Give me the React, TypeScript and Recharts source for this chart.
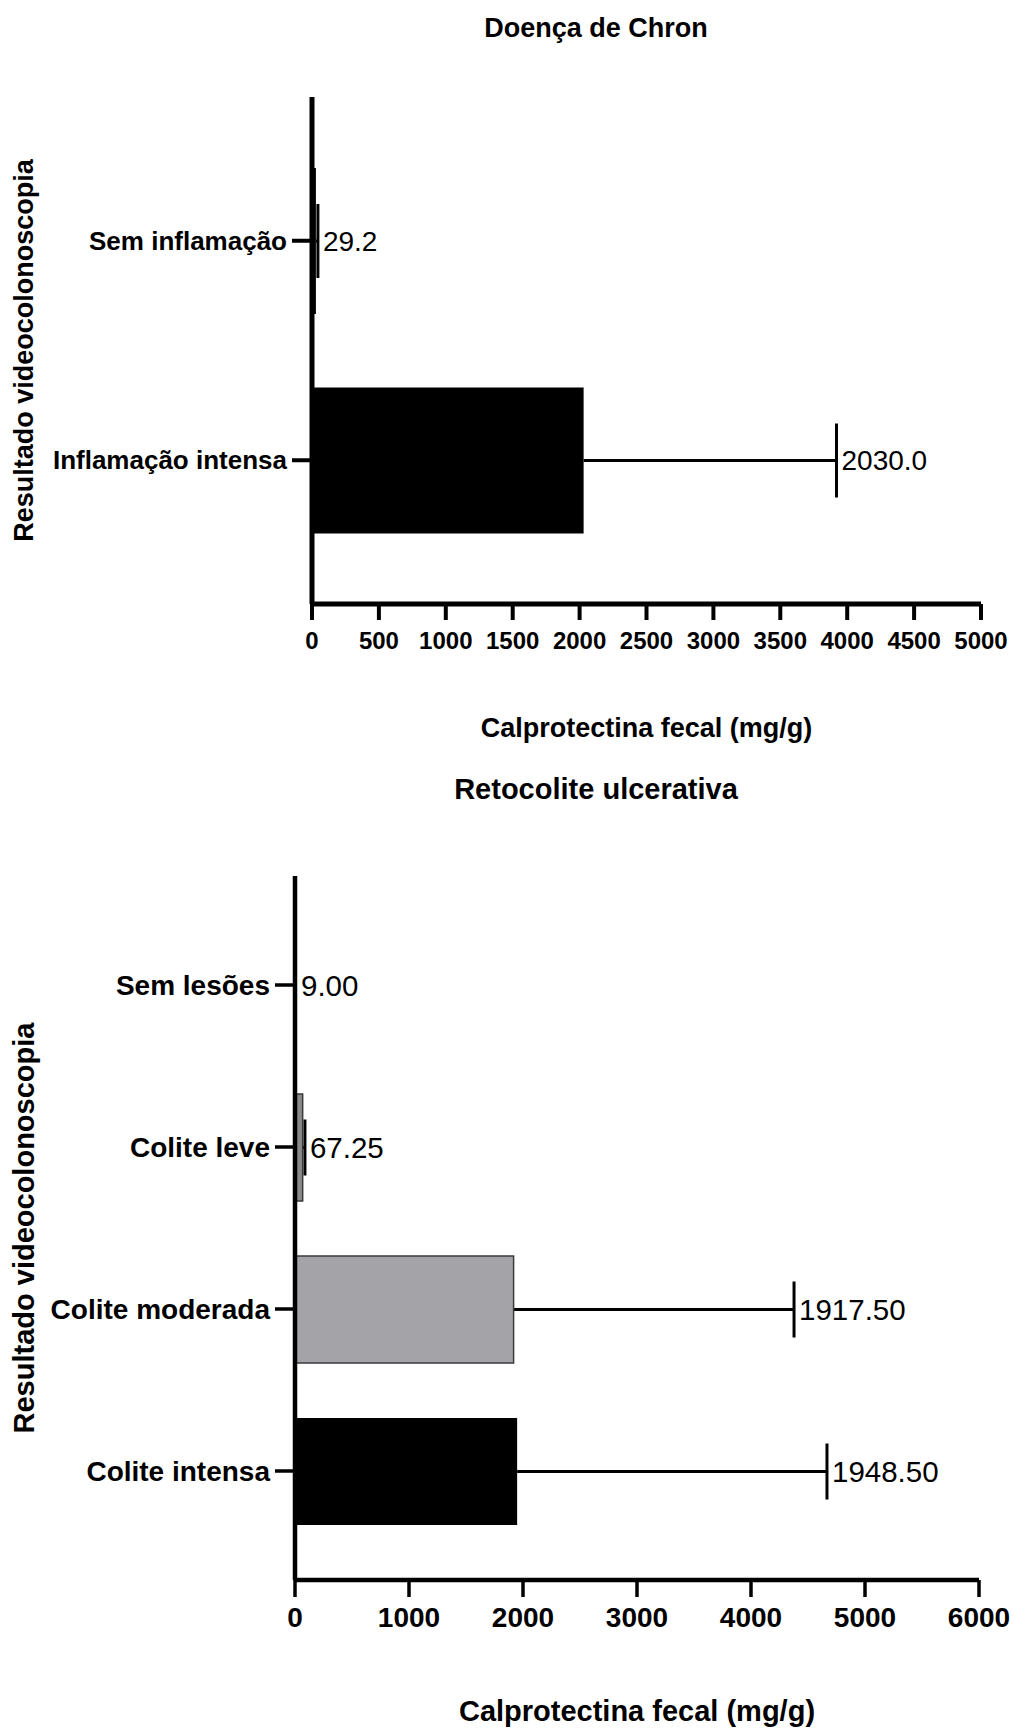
import { BarChart, Bar, XAxis, YAxis, Cell, LabelList, Label } from "recharts";

const FONT = '"Liberation Sans", Arial, Helvetica, sans-serif';

// Doença de Chron
const crohnCategories = ["Sem inflamação", "Inflamação intensa"];
const crohnMeans = [29.2, 2030.0];
const crohnErrors = [15, 1890];
const crohnFills = ["#000000", "#000000"];
const crohnTicks = [0, 500, 1000, 1500, 2000, 2500, 3000, 3500, 4000, 4500, 5000];

// Retocolite ulcerativa
const ucCategories = ["Sem lesões", "Colite leve", "Colite moderada", "Colite intensa"];
const ucMeans = [9.0, 67.25, 1917.5, 1948.5];
const ucErrors = [0, 20, 2460, 2718];
const ucFills = ["#000000", "#8a8a8a", "#a4a3a8", "#000000"];
const ucTicks = [0, 1000, 2000, 3000, 4000, 5000, 6000];

const X_TITLE = "Calprotectina fecal (mg/g)";
const Y_TITLE = "Resultado videocolonoscopia";

type Row = { name: string; mean: number; err: number; fill: string };

const toRows = (cats: string[], means: number[], errs: number[], fills: string[]): Row[] =>
  cats.map((name, i) => ({ name, mean: means[i], err: errs[i], fill: fills[i] }));

type PanelProps = {
  rows: Row[];
  ticks: number[];
  decimals: number;
  height: number;
  plotTop: number;
  yAxisWidth: number;
  rightMargin: number;
  xAxisHeight: number;
  pad: number;
  barSize: number;
  capHalf: number;
  axisWidth: number;
  tickFont: number;
  catFont: number;
  titleFont: number;
  valueFont: number;
  xTickSize: number;
  xTickMargin: number;
  xTitleOffset: number;
};

// upper end of the SD whisker, in pixels, from the bar's own geometry
const whiskerEnd = (row: Row, x: number, width: number) =>
  x + width + (row.mean ? (width / row.mean) * row.err : 0);

function Panel(p: PanelProps) {
  // one-sided error bar drawn behind the bar, like the GraphPad export
  const renderBar = (props: any) => {
    const { x, y, width, height, index } = props;
    const row = p.rows[index];
    const cy = y + height / 2;
    const end = whiskerEnd(row, x, width);
    const dark = row.fill === "#000000";
    return (
      <g>
        {row.err > 0 && (
          <g stroke="#000" strokeWidth={3}>
            <line x1={x + width} y1={cy} x2={end} y2={cy} />
            <line x1={end} y1={cy - p.capHalf} x2={end} y2={cy + p.capHalf} />
          </g>
        )}
        <rect
          x={x}
          y={y}
          width={width}
          height={height}
          fill={row.fill}
          stroke={dark ? "none" : "#3a3a3a"}
          strokeWidth={1.5}
        />
      </g>
    );
  };

  const renderValue = (props: any) => {
    const vb = props.viewBox ?? props;
    const row = p.rows[props.index];
    if (!row || !vb) return null;
    return (
      <text
        x={whiskerEnd(row, vb.x, vb.width) + 5}
        y={vb.y + vb.height / 2}
        dominantBaseline="central"
        fontFamily={FONT}
        fontSize={p.valueFont}
        fill="#000"
      >
        {row.mean.toFixed(p.decimals)}
      </text>
    );
  };

  const renderXTitle = (props: any) => {
    const vb = props.viewBox;
    return (
      <text
        x={vb.x + vb.width / 2}
        y={vb.y + p.xTitleOffset}
        textAnchor="middle"
        dominantBaseline="central"
        fontFamily={FONT}
        fontWeight={700}
        fontSize={p.titleFont}
        fill="#000"
      >
        {X_TITLE}
      </text>
    );
  };

  const renderYTitle = (props: any) => {
    const vb = props.viewBox;
    const cy = vb.y + vb.height / 2;
    return (
      <text
        x={24}
        y={cy}
        transform={`rotate(-90 24 ${cy})`}
        textAnchor="middle"
        dominantBaseline="central"
        fontFamily={FONT}
        fontWeight={700}
        fontSize={p.titleFont}
        fill="#000"
      >
        {Y_TITLE}
      </text>
    );
  };

  const axisLine = { stroke: "#000", strokeWidth: p.axisWidth };
  const tickLine = { stroke: "#000", strokeWidth: p.axisWidth - 1 };

  return (
    <BarChart
      width={1013}
      height={p.height}
      data={p.rows}
      layout="vertical"
      margin={{ top: p.plotTop, right: p.rightMargin, bottom: 0, left: 0 }}
    >
      <XAxis
        type="number"
        domain={[0, p.ticks[p.ticks.length - 1]]}
        ticks={p.ticks}
        interval={0}
        height={p.xAxisHeight}
        axisLine={axisLine}
        tickLine={tickLine}
        tickSize={p.xTickSize}
        tickMargin={p.xTickMargin}
        tick={{ fill: "#000", fontSize: p.tickFont, fontWeight: 700, fontFamily: FONT }}
      >
        <Label content={renderXTitle} />
      </XAxis>
      <YAxis
        type="category"
        dataKey="name"
        width={p.yAxisWidth}
        padding={{ top: p.pad, bottom: p.pad }}
        axisLine={axisLine}
        tickLine={tickLine}
        tickSize={20}
        tickMargin={5}
        interval={0}
        tick={{ fill: "#000", fontSize: p.catFont, fontWeight: 700, fontFamily: FONT }}
      >
        <Label content={renderYTitle} />
      </YAxis>
      <Bar dataKey="mean" barSize={p.barSize} shape={renderBar} isAnimationActive={false}>
        {p.rows.map((r) => (
          <Cell key={r.name} fill={r.fill} />
        ))}
        <LabelList dataKey="mean" content={renderValue} />
      </Bar>
    </BarChart>
  );
}

const titleStyle = (size: number, cy: number): React.CSSProperties => ({
  position: "absolute",
  left: 296,
  width: 600,
  top: cy - 20,
  lineHeight: "40px",
  textAlign: "center",
  fontFamily: FONT,
  fontWeight: 700,
  fontSize: size,
  color: "#000",
});

export default function App() {
  const crohnRows = toRows(crohnCategories, crohnMeans, crohnErrors, crohnFills);
  const ucRows = toRows(ucCategories, ucMeans, ucErrors, ucFills);

  return (
    <div
      style={{
        position: "absolute",
        left: 0,
        top: 0,
        width: 1013,
        height: 1729,
        background: "#fff",
        overflow: "hidden",
      }}
    >
      <div style={titleStyle(27, 28)}>Doença de Chron</div>
      <div style={{ position: "absolute", left: 0, top: 0 }}>
        <Panel
          rows={crohnRows}
          ticks={crohnTicks}
          decimals={1}
          height={760}
          plotTop={97}
          yAxisWidth={312}
          rightMargin={32}
          xAxisHeight={156}
          pad={34}
          barSize={146}
          capHalf={37}
          axisWidth={5}
          tickFont={24}
          catFont={26}
          titleFont={27}
          valueFont={28}
          xTickSize={16}
          xTickMargin={12}
          xTitleOffset={124}
        />
      </div>

      <div style={titleStyle(29, 789)}>Retocolite ulcerativa</div>
      <div style={{ position: "absolute", left: 0, top: 760 }}>
        <Panel
          rows={ucRows}
          ticks={ucTicks}
          decimals={2}
          height={969}
          plotTop={116}
          yAxisWidth={295}
          rightMargin={34}
          xAxisHeight={149}
          pad={28}
          barSize={107}
          capHalf={28}
          axisWidth={4.5}
          tickFont={28}
          catFont={28}
          titleFont={29}
          valueFont={29.5}
          xTickSize={17}
          xTickMargin={10}
          xTitleOffset={131}
        />
      </div>
    </div>
  );
}
